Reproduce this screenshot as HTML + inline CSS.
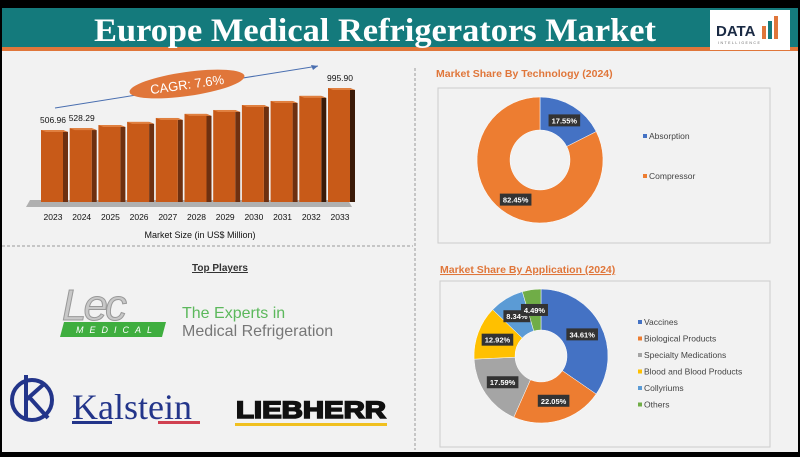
<!DOCTYPE html>
<html><head><meta charset="utf-8"><style>
html,body{margin:0;padding:0;background:#000;}
svg{display:block;font-family:"Liberation Sans",sans-serif;}
</style></head><body>
<svg width="800" height="457" viewBox="0 0 800 457">
<rect x="0" y="0" width="800" height="457" fill="#000"/>
<rect x="2" y="50" width="796" height="402" fill="#f2f2f2"/>
<rect x="2" y="8" width="796" height="40" fill="#147a7c"/>
<rect x="2" y="47" width="796" height="4" fill="#e0763a"/>
<text x="375" y="41" text-anchor="middle" font-family="Liberation Serif,serif" font-size="33" font-weight="bold" fill="#fff" textLength="562" lengthAdjust="spacingAndGlyphs">Europe Medical Refrigerators Market</text>
<g>
<rect x="710" y="10" width="80" height="40" fill="#fff"/>
<text x="716" y="36" font-size="15" font-weight="bold" fill="#1a2a44">DATA</text>
<rect x="762" y="26" width="4" height="13" fill="#e0763a"/><rect x="768" y="21" width="4" height="18" fill="#147a7c"/><rect x="774" y="16" width="4" height="23" fill="#e0763a"/>
<text x="718" y="44" font-size="3.5" fill="#666" letter-spacing="1.5">INTELLIGENCE</text>
</g>
<line x1="415" y1="68" x2="415" y2="450" stroke="#999" stroke-dasharray="3,2"/>
<line x1="2" y1="246" x2="413" y2="246" stroke="#999" stroke-dasharray="3,2"/>

<g id="barchart">
<polygon points="30,200 348,200 352,207 26,207" fill="#b0b0b0"/>
<line x1="55" y1="108" x2="318" y2="66" stroke="#4a6fb0" stroke-width="1"/>
<polygon points="318,66 311,65 313,70" fill="#4a6fb0"/>
<ellipse cx="187" cy="84" rx="58" ry="12" fill="#e0763a" transform="rotate(-8 187 84)"/>
<text x="187" y="89" text-anchor="middle" font-size="13" fill="#fff" transform="rotate(-8 187 84)">CAGR: 7.6%</text>
<text x="200" y="238" text-anchor="middle" font-size="9" fill="#111">Market Size (in US$ Million)</text>
</g>

<g>
<text x="436" y="77" font-size="10.5" font-weight="bold" fill="#e0763a">Market Share By Technology (2024)</text>
<rect x="438" y="88" width="332" height="155" fill="#f2f2f2" stroke="#ccc"/>
<g id="donut1"></g>
</g>
<g>
<text x="440" y="273" font-size="10.5" font-weight="bold" fill="#e0763a" text-decoration="underline">Market Share By Application (2024)</text>
<rect x="440" y="281" width="330" height="166" fill="#f2f2f2" stroke="#ccc"/>
<g id="donut2"></g>
</g>

<g>
<text x="220" y="271" text-anchor="middle" font-size="10" font-weight="bold" fill="#333" text-decoration="underline">Top Players</text>
<g>
<text x="62" y="320" font-size="44" font-style="italic" fill="#c8c8c8" stroke="#999" stroke-width="1" letter-spacing="-3">Lec</text>
<polygon points="64,322 166,322 162,337 60,337" fill="#3fae3f"/>
<text x="76" y="333" font-size="9" font-style="italic" fill="#fff" letter-spacing="6">MEDICAL</text>
<text x="182" y="318" font-size="16" fill="#5cb85c">The Experts in</text>
<text x="182" y="336" font-size="16" fill="#777">Medical Refrigeration</text>
</g>
<g>
<circle cx="32" cy="400" r="20" fill="none" stroke="#23358a" stroke-width="4"/>
<line x1="26" y1="375" x2="26" y2="420" stroke="#23358a" stroke-width="4"/>
<path d="M26 400 L44 384 M30 398 L48 418" stroke="#23358a" stroke-width="4" fill="none"/>
<text x="72" y="419" font-family="Liberation Serif,serif" font-size="36" fill="#23358a">Kalstein</text>
<rect x="72" y="421" width="40" height="3" fill="#23358a"/><rect x="158" y="421" width="42" height="3" fill="#d04050"/>
</g>
<g>
<text x="311" y="418" text-anchor="middle" font-size="24" font-weight="bold" fill="#111" stroke="#111" stroke-width="1.6" textLength="150" lengthAdjust="spacingAndGlyphs">LIEBHERR</text>
<rect x="235" y="423" width="152" height="3" fill="#f0c020"/>
</g>
</g>
</svg>
<script>
const years=["2023","2024","2025","2026","2027","2028","2029","2030","2031","2032","2033"];
const marketValues=[506.96,528.29,565,601,647,694,740,798,845,904,995.9];
const valueLabels=["506.96","528.29","","","","","","","","","995.90"];
const techLabels=["Absorption","Compressor"];
const techValues=[17.55,82.45];
const appLabels=["Vaccines","Biological Products","Specialty Medications","Blood and Blood Products","Collyriums","Others"];
const appValues=[34.61,22.05,17.59,12.92,8.34,4.49];

const NS="http://www.w3.org/2000/svg";
function mk(tag,attrs,parent){const e=document.createElementNS(NS,tag);for(const k in attrs)e.setAttribute(k,attrs[k]);parent.appendChild(e);return e;}
const bc=document.getElementById('barchart');
const xPos=i=>41+i*28.7;
const yBase=202;
const hScale=v=>72+(v-506.96)*(42/489);
marketValues.forEach((v,i)=>{
  const x=xPos(i),h=hScale(v),top=yBase-h;
  const g=mk('g',{},bc);
  
  
  mk('polygon',{points:`${x+22},${top} ${x+27},${top+2} ${x+27},${yBase} ${x+22},${yBase}`,fill:i>8?'#3a1a08':'#6e3010'},g);
  mk('rect',{x:x,y:top,width:22,height:h,fill:'#c85a18'},g);
  mk('polygon',{points:`${x},${top} ${x+22},${top} ${x+27},${top+2} ${x+5},${top+2}`,fill:'#e08040'},g);
  const t=mk('text',{x:x+12,y:220,'text-anchor':'middle','font-size':8.5,fill:'#111'},bc);
  t.textContent=years[i];
  
  
  if(valueLabels[i]){
    const l=mk('text',{x:x+12,y:top-7,'text-anchor':'middle','font-size':8.5,fill:'#111'},bc);
    l.textContent=valueLabels[i];
    
    
  }
});
function donut(gid,labels,values,colors,cx,cy,R,r,legX,legY,legStep,prefix){
  const g=document.getElementById(gid);
  const tot=values.reduce((a,b)=>a+b,0);let a0=-Math.PI/2;
  values.forEach((v,i)=>{
    const a1=a0+v/tot*2*Math.PI,lg=(a1-a0)>Math.PI?1:0;
    const p=(rad,a)=>[cx+rad*Math.cos(a),cy+rad*Math.sin(a)];
    const [x0,y0]=p(R,a0),[x1,y1]=p(R,a1),[x2,y2]=p(r,a1),[x3,y3]=p(r,a0);
    const s=mk('path',{d:`M${x0},${y0} A${R},${R} 0 ${lg} 1 ${x1},${y1} L${x2},${y2} A${r},${r} 0 ${lg} 0 ${x3},${y3}Z`,fill:colors[i],stroke:'#fff','stroke-width':0.5},g);
    
    
    const am=(a0+a1)/2,[lx,ly]=p((R+r)/2,am);
    const txt=v.toFixed(2)+'%';const w=txt.length*4.6+4;
    mk('rect',{x:lx-w/2,y:ly-6,width:w,height:12,fill:'#333'},g);
    const t=mk('text',{x:lx,y:ly+3,'text-anchor':'middle','font-size':7.5,'font-weight':'bold',fill:'#fff'},g);
    t.textContent=txt;
    
    
    mk('rect',{x:legX,y:legY+i*legStep-5,width:4,height:4,fill:colors[i]},g);
    const lt=mk('text',{x:legX+6,y:legY+i*legStep,'font-size':8.5,fill:'#444'},g);
    lt.textContent=labels[i];
    
    
    a0=a1;
  });
}
donut('donut1',techLabels,techValues,['#4472c4','#ed7d31'],540,160,63,30,643,139,40,'technology');
donut('donut2',appLabels,appValues,['#4472c4','#ed7d31','#a5a5a5','#ffc000','#5b9bd5','#70ad47'],541,356,67,26,638,325,16.5,'application');
</script>
</body></html>
